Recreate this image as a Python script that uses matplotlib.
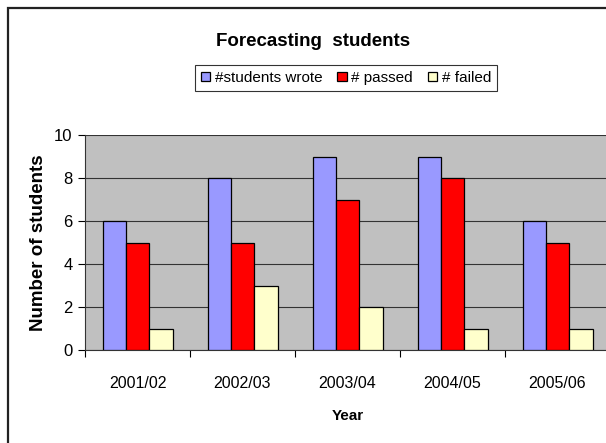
import matplotlib.pyplot as plt
import numpy as np
from matplotlib.patches import Rectangle

plt.rcParams['font.family'] = ['Liberation Sans', 'DejaVu Sans']

years = ['2001/02', '2002/03', '2003/04', '2004/05', '2005/06']
wrote = [6, 8, 9, 9, 6]
passed = [5, 5, 7, 8, 5]
failed = [1, 3, 2, 1, 1]

series = [('#students wrote', wrote, '#9999ff'),
          ('# passed', passed, '#ff0000'),
          ('# failed', failed, '#ffffcc')]

W, H = 606, 443
fig = plt.figure(figsize=(W / 100, H / 100), dpi=100)

# outer chart frame, runs off the right and bottom edges
fig.patches.append(Rectangle((8 / W, -0.05), 1.1, (H - 8) / H + 0.05,
                             transform=fig.transFigure, fill=False,
                             edgecolor='#222222', linewidth=1.6))

# plot area in pixels: left 85, right 610, top 135, bottom 350
ax = fig.add_axes([85 / W, (H - 350) / H, 525 / W, 215 / H])
ax.set_facecolor('#c0c0c0')

x = np.arange(len(years))
bw = 1 / 4.5  # gap width 150%
for i, (name, vals, col) in enumerate(series):
    ax.bar(x + (i - 1) * bw, vals, bw, color=col, edgecolor='black',
           linewidth=0.9, label=name, zorder=3)

ax.set_xlim(-0.5, len(years) - 0.5)
ax.set_ylim(0, 10)
ax.set_yticks(range(0, 11, 2))
ax.set_xticks(x)
ax.set_xticklabels(years)
ax.set_xticks(np.arange(-0.5, len(years), 1), minor=True)
ax.tick_params(axis='x', which='major', length=0, pad=19, labelsize=11.5)
ax.tick_params(axis='x', which='minor', length=5, width=0.8, direction='out')
ax.tick_params(axis='y', length=5, width=0.8, direction='out', labelsize=12, pad=4)
ax.yaxis.grid(True, color='#333333', linewidth=0.8, zorder=1)

for s in ['top', 'right']:
    ax.spines[s].set_visible(False)
ax.spines['left'].set_color('#333333')
ax.spines['bottom'].set_color('#333333')

ax.set_xlabel('Year', fontsize=11, fontweight='bold', labelpad=13)
ax.set_ylabel('Number of students', fontsize=13.5, fontweight='bold', labelpad=5)

fig.text(313 / W, 1 - 42 / H, 'Forecasting  students', ha='center', va='center',
         fontsize=13.5, fontweight='bold')

leg = fig.legend(loc='center', bbox_to_anchor=(346 / W, 1 - 78 / H), ncol=3,
                 fontsize=11, frameon=True, fancybox=False, edgecolor='black',
                 handlelength=0.6, handleheight=0.6, handletextpad=0.3,
                 columnspacing=1.0, borderpad=0.4, borderaxespad=0)
leg.get_frame().set_linewidth(0.8)

fig.savefig('out.png', dpi=100)
